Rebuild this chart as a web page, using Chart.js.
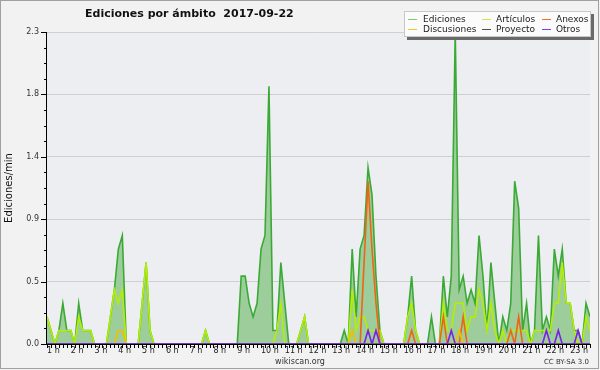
<!DOCTYPE html>
<html>
<head>
<meta charset="utf-8">
<script src="https://cdn.jsdelivr.net/npm/chart.js@4.4.1/dist/chart.umd.min.js"></script>
<style>
  html, body { margin: 0; padding: 0; background: #f2f2f2; }
  #wrap { width: 600px; height: 370px; }
</style>
</head>
<body>
<div id="wrap"><canvas id="c" width="600" height="370"></canvas></div>
<script>
// franjas de 10 minutos desde la 1 h
const hourLabels = ['1 h', '2 h', '3 h', '4 h', '5 h', '6 h', '7 h', '8 h', '9 h', '10 h', '11 h', '12 h',
  '13 h', '14 h', '15 h', '16 h', '17 h', '18 h', '19 h', '20 h', '21 h', '22 h', '23 h']

const ediciones = [
  0.2, 0.1, 0, 0.1, 0.3, 0.1, 0.1, 0, 0.3, 0.1, 0.1, 0.1,
  0, 0, 0, 0, 0.2, 0.4, 0.7, 0.8, 0, 0, 0, 0,
  0.3, 0.6, 0.1, 0, 0, 0, 0, 0, 0, 0, 0, 0,
  0, 0, 0, 0, 0.1, 0, 0, 0, 0, 0, 0, 0,
  0, 0.5, 0.5, 0.3, 0.2, 0.3, 0.7, 0.8, 1.9, 0.1, 0.1, 0.6,
  0.3, 0, 0, 0, 0.1, 0.2, 0, 0, 0, 0, 0, 0,
  0, 0, 0, 0.1, 0, 0.7, 0.2, 0.7, 0.8, 1.3, 1.1, 0.5,
  0.1, 0, 0, 0, 0, 0, 0, 0.2, 0.5, 0.1, 0, 0,
  0, 0.2, 0, 0, 0.5, 0.2, 0.5, 2.3, 0.4, 0.5, 0.3, 0.4,
  0.3, 0.8, 0.5, 0.1, 0.6, 0.3, 0, 0.2, 0.1, 0.3, 1.2, 1.0,
  0.1, 0.3, 0, 0.1, 0.8, 0.1, 0.2, 0.1, 0.7, 0.5, 0.7, 0.3,
  0.3, 0.1, 0.1, 0, 0.3, 0.2
]
const articulos = [
  0.2, 0.1, 0, 0.1, 0.1, 0.1, 0.1, 0, 0.2, 0.1, 0.1, 0.1,
  0, 0, 0, 0, 0.2, 0.4, 0.3, 0.4, 0, 0, 0, 0,
  0.3, 0.6, 0.1, 0, 0, 0, 0, 0, 0, 0, 0, 0,
  0, 0, 0, 0, 0.1, 0, 0, 0, 0, 0, 0, 0,
  0, 0, 0, 0, 0, 0, 0, 0, 0, 0, 0.1, 0.3,
  0, 0, 0, 0, 0.1, 0.2, 0, 0, 0, 0, 0, 0,
  0, 0, 0, 0, 0, 0.4, 0.1, 0.2, 0.2, 0.1, 0.1, 0.1,
  0.1, 0, 0, 0, 0, 0, 0, 0.2, 0.3, 0.1, 0, 0,
  0, 0, 0, 0, 0.3, 0.1, 0.1, 0.3, 0.3, 0.3, 0.1, 0.2,
  0.2, 0.4, 0.3, 0.1, 0.3, 0.1, 0, 0.1, 0, 0.1, 0.1, 0.1,
  0.1, 0.1, 0, 0.1, 0.1, 0.1, 0.1, 0.1, 0.3, 0.3, 0.6, 0.3,
  0.3, 0.1, 0, 0, 0.2, 0.1
]
const anexos = [
  0, 0, 0, 0, 0, 0, 0, 0, 0, 0, 0, 0,
  0, 0, 0, 0, 0, 0, 0, 0, 0, 0, 0, 0,
  0, 0, 0, 0, 0, 0, 0, 0, 0, 0, 0, 0,
  0, 0, 0, 0, 0, 0, 0, 0, 0, 0, 0, 0,
  0, 0, 0, 0, 0, 0, 0, 0, 0, 0, 0, 0,
  0, 0, 0, 0, 0, 0, 0, 0, 0, 0, 0, 0,
  0, 0, 0, 0, 0, 0, 0, 0, 0.6, 1.2, 0.7, 0.3,
  0, 0, 0, 0, 0, 0, 0, 0, 0.1, 0, 0, 0,
  0, 0, 0, 0, 0.2, 0, 0, 0, 0, 0.2, 0, 0,
  0, 0, 0, 0, 0, 0, 0, 0, 0, 0.1, 0, 0.2,
  0, 0, 0, 0, 0, 0, 0, 0, 0, 0, 0, 0,
  0, 0, 0, 0, 0, 0
]
const discusiones = [
  0, 0, 0, 0, 0, 0, 0, 0, 0, 0, 0, 0,
  0, 0, 0, 0, 0, 0, 0.1, 0.1, 0, 0, 0, 0,
  0, 0, 0, 0, 0, 0, 0, 0, 0, 0, 0, 0,
  0, 0, 0, 0, 0, 0, 0, 0, 0, 0, 0, 0,
  0, 0, 0, 0, 0, 0, 0, 0, 0, 0, 0, 0,
  0, 0, 0, 0, 0, 0, 0, 0, 0, 0, 0, 0,
  0, 0, 0, 0, 0, 0.1, 0, 0, 0, 0, 0, 0,
  0, 0, 0, 0, 0, 0, 0, 0, 0, 0, 0, 0,
  0, 0, 0, 0, 0, 0, 0, 0, 0.1, 0, 0, 0,
  0, 0, 0, 0, 0, 0, 0, 0, 0, 0, 0, 0,
  0, 0, 0, 0, 0, 0, 0, 0, 0, 0, 0, 0,
  0, 0, 0, 0, 0, 0
]
const proyecto = [
  0, 0, 0, 0, 0, 0, 0, 0, 0, 0, 0, 0,
  0, 0, 0, 0, 0, 0, 0, 0, 0, 0, 0, 0,
  0, 0, 0, 0, 0, 0, 0, 0, 0, 0, 0, 0,
  0, 0, 0, 0, 0, 0, 0, 0, 0, 0, 0, 0,
  0, 0, 0, 0, 0, 0, 0, 0, 0, 0, 0, 0,
  0, 0, 0, 0, 0, 0, 0, 0, 0, 0, 0, 0,
  0, 0, 0, 0, 0, 0, 0, 0, 0, 0, 0, 0,
  0, 0, 0, 0, 0, 0, 0, 0, 0, 0, 0, 0,
  0, 0, 0, 0, 0, 0, 0, 0, 0, 0, 0, 0,
  0, 0, 0, 0, 0, 0, 0, 0, 0, 0, 0, 0,
  0, 0, 0, 0, 0, 0, 0, 0, 0, 0, 0, 0,
  0, 0, 0, 0, 0, 0
]
const otros = [
  0, 0, 0, 0, 0, 0, 0, 0, 0, 0, 0, 0,
  0, 0, 0, 0, 0, 0, 0, 0, 0, 0, 0, 0,
  0, 0, 0, 0, 0, 0, 0, 0, 0, 0, 0, 0,
  0, 0, 0, 0, 0, 0, 0, 0, 0, 0, 0, 0,
  0, 0, 0, 0, 0, 0, 0, 0, 0, 0, 0, 0,
  0, 0, 0, 0, 0, 0, 0, 0, 0, 0, 0, 0,
  0, 0, 0, 0, 0, 0, 0, 0, 0, 0.1, 0, 0.1,
  0, 0, 0, 0, 0, 0, 0, 0, 0, 0, 0, 0,
  0, 0, 0, 0, 0, 0, 0.1, 0, 0, 0, 0, 0,
  0, 0, 0, 0, 0, 0, 0, 0, 0, 0, 0, 0,
  0, 0, 0, 0, 0, 0, 0.1, 0, 0, 0.1, 0, 0,
  0, 0, 0.1, 0, 0, 0
]

const FONT = 'DejaVu Sans'
const toPoints = vals => vals.map((v, i) => ({ x: i, y: v }))

const series = [
  { label: 'Ediciones', data: ediciones, color: '#3aaa35', legend: '#78cc78', fill: true },
  { label: 'Artículos', data: articulos, color: '#b4ee00', legend: '#c4ee44' },
  { label: 'Anexos', data: anexos, color: '#f06414', legend: '#f07030' },
  { label: 'Discusiones', data: discusiones, color: '#f0c000', legend: '#f2c830' },
  { label: 'Proyecto', data: proyecto, color: '#505050', legend: '#505050' },
  { label: 'Otros', data: otros, color: '#7a22e6', legend: '#8040f0' }
]

const decor = {
  id: 'decor',
  beforeDraw(chart) {
    const { ctx, chartArea: a } = chart
    ctx.save()
    ctx.fillStyle = '#f2f2f2'
    ctx.fillRect(0, 0, chart.width, chart.height)
    ctx.fillStyle = '#eceef1'
    ctx.fillRect(a.left, a.top, a.right - a.left, a.bottom - a.top)
    ctx.strokeStyle = '#a0a0a0'
    ctx.strokeRect(0.5, 0.5, chart.width - 2, chart.height - 2)
    ctx.restore()
  },
  afterDatasetsDraw(chart) {
    const { ctx, chartArea: a, scales: { x, y } } = chart
    ctx.save()
    ctx.strokeStyle = '#000'
    ctx.lineWidth = 1
    ctx.beginPath()
    ctx.moveTo(a.left - 0.5, a.top)
    ctx.lineTo(a.left - 0.5, a.bottom + 0.5)
    ctx.lineTo(a.right, a.bottom + 0.5)
    y.ticks.forEach((t, i) => {
      const py = Math.round(y.getPixelForValue(t.value)) + 0.5
      const len = i % 4 === 0 ? 6 : 3
      ctx.moveTo(a.left - len, py)
      ctx.lineTo(a.left, py)
    })
    x.ticks.forEach(t => {
      const px = Math.round(x.getPixelForValue(t.value)) + 0.5
      ctx.moveTo(px, a.bottom)
      ctx.lineTo(px, a.bottom + 4)
    })
    ctx.stroke()
    ctx.restore()
  },
  afterDraw(chart) {
    const { ctx } = chart
    ctx.save()
    // título
    ctx.fillStyle = '#111'
    ctx.textBaseline = 'middle'
    ctx.textAlign = 'left'
    ctx.font = `bold 11px "${FONT}"`
    ctx.fillText('Ediciones por ámbito  2017-09-22', 85, 14)
    // pie
    ctx.fillStyle = '#333'
    ctx.textAlign = 'center'
    ctx.font = `8px "${FONT}"`
    ctx.fillText('wikiscan.org', 300, 362)
    ctx.textAlign = 'right'
    ctx.font = `7px "${FONT}"`
    ctx.fillText('CC BY-SA 3.0', 589, 362)

    // leyenda
    ctx.fillStyle = '#6a6a6a'
    ctx.fillRect(407, 14, 187, 26)
    ctx.fillStyle = '#fbfbfb'
    ctx.fillRect(404, 11, 187, 26)
    ctx.strokeStyle = '#c8c8c8'
    ctx.strokeRect(404.5, 11.5, 186, 25)
    const lineX = [408, 482, 542]
    const textX = [423, 496, 556]
    const rowY = [19.5, 29.5]
    ctx.font = `9px "${FONT}"`
    ctx.textAlign = 'left'
    series.forEach((s, k) => {
      const col = k % 3, row = Math.floor(k / 3)
      ctx.strokeStyle = s.legend
      ctx.beginPath()
      ctx.moveTo(lineX[col], rowY[row])
      ctx.lineTo(lineX[col] + 9, rowY[row])
      ctx.stroke()
      ctx.fillStyle = '#222'
      ctx.fillText(s.label, textX[col], rowY[row])
    })
    ctx.restore()
  }
}

new Chart(document.getElementById('c'), {
  type: 'line',
  data: {
    datasets: series.map((s, k) => ({
      label: s.label,
      data: toPoints(s.data),
      borderColor: s.color,
      backgroundColor: s.fill ? '#9ecd9c' : s.color,
      fill: s.fill ? 'origin' : false,
      borderWidth: 1.6,
      pointRadius: 0,
      tension: 0,
      order: series.length - k
    }))
  },
  options: {
    responsive: false,
    animation: false,
    devicePixelRatio: 1,
    layout: { padding: { top: 32, right: 10, bottom: 0, left: 0 } },
    plugins: {
      legend: { display: false },
      tooltip: { enabled: false }
    },
    scales: {
      x: {
        type: 'linear',
        min: 0,
        max: ediciones.length - 1,
        border: { display: false },
        grid: { display: false, drawTicks: false },
        ticks: {
          stepSize: 1,
          autoSkip: false,
          maxRotation: 0,
          align: 'start',
          padding: 2,
          color: '#222',
          font: { family: FONT, size: 8 },
          callback: (v) => (v % 6 === 0 ? hourLabels[v / 6] : '')
        },
        afterFit: (scale) => { scale.height = 26 }
      },
      y: {
        min: 0,
        max: 2.3,
        border: { display: false },
        grid: {
          drawTicks: false,
          color: (c) => (c.index % 4 === 0 ? '#cfcfcf' : 'rgba(0,0,0,0)')
        },
        ticks: {
          stepSize: 0.115,
          autoSkip: false,
          padding: 8,
          color: '#333',
          font: { family: FONT, size: 8 },
          callback: (v, i) => (i % 4 === 0 ? v.toFixed(1) : '')
        },
        title: {
          display: true,
          text: 'Ediciones/min',
          color: '#111',
          padding: { top: 3, bottom: 0 },
          font: { family: FONT, size: 10 }
        },
        afterFit: (scale) => { scale.width = 47 }
      }
    }
  },
  plugins: [decor]
})
</script>
</body>
</html>
